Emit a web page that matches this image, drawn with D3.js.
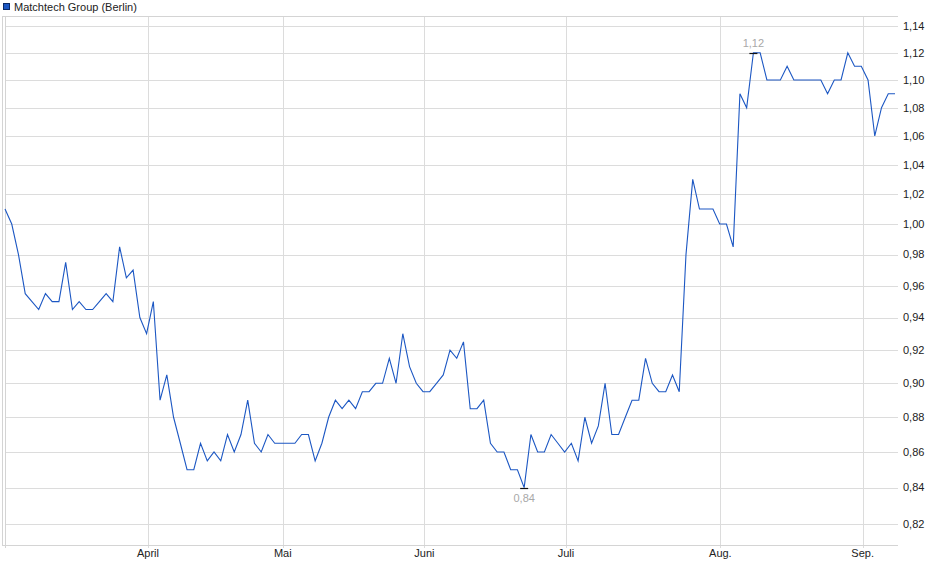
<!DOCTYPE html>
<html>
<head>
<meta charset="utf-8">
<script src="https://cdn.jsdelivr.net/npm/d3@7"></script>
<style>
	body { margin: 0; background: #fff; }
	svg { display: block; font-family: "Liberation Sans", Arial, sans-serif; }
</style>
</head>
<body>
<div class="chart"></div>
<script>
// daily closes, Matchtech Group (Berlin), one value per trading day
const closes = [
	1.01, 1.00, 0.98, 0.955, 0.95, 0.945, 0.955, 0.95, 0.95, 0.975,
	0.945, 0.95, 0.945, 0.945, 0.95, 0.955, 0.95, 0.985, 0.965, 0.97,
	0.94, 0.93, 0.95, 0.89, 0.905, 0.88, 0.865, 0.85, 0.85, 0.865,
	0.855, 0.86, 0.855, 0.87, 0.86, 0.87, 0.89, 0.865, 0.86, 0.87,
	0.865, 0.865, 0.865, 0.865, 0.87, 0.87, 0.855, 0.865, 0.88, 0.89,
	0.885, 0.89, 0.885, 0.895, 0.895, 0.90, 0.90, 0.915, 0.90, 0.93,
	0.91, 0.90, 0.895, 0.895, 0.90, 0.905, 0.92, 0.915, 0.925, 0.885,
	0.885, 0.89, 0.865, 0.86, 0.86, 0.85, 0.85, 0.84, 0.87, 0.86,
	0.86, 0.87, 0.865, 0.86, 0.865, 0.855, 0.88, 0.865, 0.875, 0.90,
	0.87, 0.87, 0.88, 0.89, 0.89, 0.915, 0.90, 0.895, 0.895, 0.905,
	0.895, 0.98, 1.03, 1.01, 1.01, 1.01, 1.00, 1.00, 0.985, 1.09,
	1.08, 1.12, 1.12, 1.10, 1.10, 1.10, 1.11, 1.10, 1.10, 1.10,
	1.10, 1.10, 1.09, 1.10, 1.10, 1.12, 1.11, 1.11, 1.10, 1.06,
	1.08, 1.09, 1.09
];

// month starts, as position on the trading-day axis
const monthNames = ["April", "Mai", "Juni", "Juli", "Aug.", "Sep."];
const monthStarts = [21.2, 41.2, 62.2, 83.2, 106.1, 127.2];

const yTicks = [0.82, 0.84, 0.86, 0.88, 0.90, 0.92, 0.94, 0.96, 0.98, 1.00, 1.02, 1.04, 1.06, 1.08, 1.10, 1.12, 1.14];

const seriesName = "Matchtech Group (Berlin)";

!function () {
	const width = 940, height = 579;
	const lineColor = "#1c57c3";
	const plot = { left: 5, right: 898, top: 16, bottom: 545 };

	const x = d3.scaleLinear()
		.domain([0, closes.length - 1])
		.range([5, 895]);

	// price axis is logarithmic
	const y = d3.scaleLog()
		.domain([d3.min(yTicks), d3.max(yTicks)])
		.range([524, 26]);

	const fmt = v => d3.format(".2f")(v).replace(".", ",");

	const svg = d3.select(".chart")
		.append("svg")
		.attr("width", width)
		.attr("height", height)
		.attr("viewBox", [0, 0, width, height]);

	// legend
	svg.append("rect")
		.attr("x", 3.5).attr("y", 3.5)
		.attr("width", 6).attr("height", 6)
		.attr("fill", lineColor)
		.attr("stroke", "#0b2a66");
	svg.append("text")
		.attr("x", 14).attr("y", 10.5)
		.attr("font-size", 11)
		.attr("fill", "#222")
		.text(seriesName);

	// horizontal grid
	svg.append("g")
		.attr("stroke", "#dcdcdc")
		.attr("shape-rendering", "crispEdges")
		.selectAll("line")
		.data(yTicks)
		.join("line")
		.attr("x1", plot.left)
		.attr("x2", plot.right)
		.attr("y1", d => Math.round(y(d)) + 0.5)
		.attr("y2", d => Math.round(y(d)) + 0.5);

	// vertical grid at month starts, running a little past the bottom as ticks
	svg.append("g")
		.attr("stroke", "#dcdcdc")
		.attr("shape-rendering", "crispEdges")
		.selectAll("line")
		.data(monthStarts)
		.join("line")
		.attr("x1", d => Math.round(x(d)) + 0.5)
		.attr("x2", d => Math.round(x(d)) + 0.5)
		.attr("y1", plot.top)
		.attr("y2", plot.bottom + 3);

	// frame: top, bottom, double left edge
	const frame = svg.append("g")
		.attr("stroke", "#d4d4d4")
		.attr("shape-rendering", "crispEdges");
	frame.append("line")
		.attr("x1", 2).attr("x2", plot.right)
		.attr("y1", plot.top + 0.5).attr("y2", plot.top + 0.5);
	frame.append("line")
		.attr("x1", 2).attr("x2", plot.right)
		.attr("y1", plot.bottom + 0.5).attr("y2", plot.bottom + 0.5);
	frame.append("line")
		.attr("x1", 2.5).attr("x2", 2.5)
		.attr("y1", plot.top).attr("y2", plot.bottom + 1);
	frame.append("line")
		.attr("x1", 5.5).attr("x2", 5.5)
		.attr("y1", plot.top).attr("y2", plot.bottom + 3);

	// price labels on the right
	svg.append("g")
		.attr("font-size", 11)
		.attr("fill", "#222")
		.selectAll("text")
		.data(yTicks)
		.join("text")
		.attr("x", 903)
		.attr("y", d => y(d))
		.attr("dy", "0.35em")
		.text(fmt);

	// month labels
	svg.append("g")
		.attr("font-size", 11)
		.attr("fill", "#222")
		.attr("text-anchor", "middle")
		.selectAll("text")
		.data(monthStarts)
		.join("text")
		.attr("x", d => x(d))
		.attr("y", 557)
		.text((d, i) => monthNames[i]);

	// price line
	const line = d3.line()
		.x((d, i) => x(i))
		.y(d => y(d));

	svg.append("path")
		.datum(closes)
		.attr("fill", "none")
		.attr("stroke", lineColor)
		.attr("stroke-width", 1.1)
		.attr("d", line);

	// high / low markers
	const hi = d3.maxIndex(closes), lo = d3.minIndex(closes);
	const marks = [
		{ i: hi, v: closes[hi], dy: -6 },
		{ i: lo, v: closes[lo], dy: 14 }
	];
	const m = svg.append("g");
	m.selectAll("line")
		.data(marks)
		.join("line")
		.attr("x1", d => x(d.i) - 4)
		.attr("x2", d => x(d.i) + 4)
		.attr("y1", d => Math.round(y(d.v)) + 0.5)
		.attr("y2", d => Math.round(y(d.v)) + 0.5)
		.attr("stroke", "#111")
		.attr("stroke-width", 1.2);
	m.selectAll("text")
		.data(marks)
		.join("text")
		.attr("x", d => x(d.i))
		.attr("y", d => y(d.v) + d.dy)
		.attr("text-anchor", "middle")
		.attr("font-size", 11)
		.attr("fill", "#a8a8a8")
		.text(d => fmt(d.v));
}();
</script>
</body>
</html>
